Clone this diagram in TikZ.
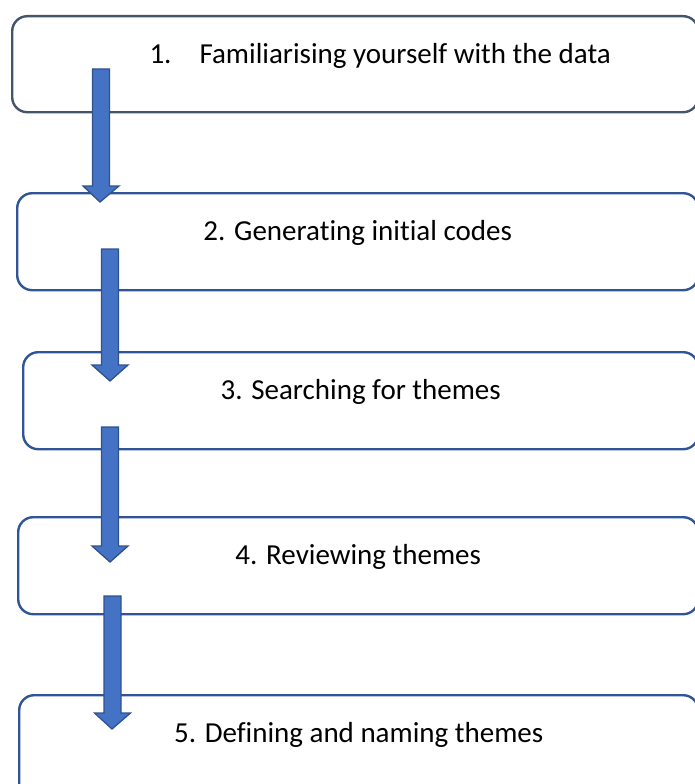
\documentclass[tikz,border=0pt]{standalone}
\usepackage{fontspec}
\setmainfont{Carlito}[RawFeature=-liga]
\usetikzlibrary{calc}

\definecolor{slateline}{HTML}{44546A}
\definecolor{boxline}{HTML}{2F5597}
\definecolor{arrowfill}{HTML}{4472C4}
\definecolor{arrowline}{HTML}{2F528F}

% block arrow from the top of its shaft (#1) down to its tip (#2)
\newcommand{\flowarrow}[2]{%
  \path[blockarrow] let \p1=(#1), \p2=(#2) in
    (\x1-8.5pt,\y1) -- (\x1+8.5pt,\y1) -- (\x1+8.5pt,\y2+16pt) -- (\x1+18pt,\y2+16pt)
    -- (\x2,\y2) -- (\x1-18pt,\y2+16pt) -- (\x1-8.5pt,\y2+16pt) -- cycle;}

\begin{document}
\begin{tikzpicture}[
        x=1pt, y=-1pt,
        phase/.style={draw=boxline, line width=2.4pt, rounded corners=15pt, anchor=north west,
            inner sep=0pt, minimum width=686pt, text height=47pt, font=\fontsize{29}{35}\selectfont},
        blockarrow/.style={fill=arrowfill, draw=arrowline, line width=1.3pt, line join=miter}
    ]
        \useasboundingbox (0,0) rectangle (695,784);
        \clip (0,0) rectangle (695,784);

        % Phase boxes
        \node[phase, draw=slateline, minimum height=96pt, text depth=49pt] (box1) at (11,15)
            {\hspace*{50pt}1.\hspace{28pt}Familiarising yourself with the data};
        \node[phase, minimum height=97pt, text depth=50pt, minimum width=681pt] (box2) at (16,192)
            {2. Generating initial codes};
        \node[phase, minimum height=97pt, text depth=50pt, minimum width=675pt] (box3) at (22,351)
            {3. Searching for themes};
        \node[phase, minimum height=97pt, text depth=50pt, minimum width=680pt] (box4) at (17,516)
            {4. Reviewing themes};
        \node[phase, minimum height=110pt, text depth=63pt, minimum width=679pt] (box5) at (18,694)
            {5. Defining and naming themes};

        % Arrow ends
        \coordinate (top1) at (101,69);   \coordinate (tip1) at (100,202);
        \coordinate (top2) at (110,249);  \coordinate (tip2) at (110,381);
        \coordinate (top3) at (110,427);  \coordinate (tip3) at (110,562);
        \coordinate (top4) at (112.5,596); \coordinate (tip4) at (112,729);

        % Block arrows between phases
        \flowarrow{top1}{tip1}
        \flowarrow{top2}{tip2}
        \flowarrow{top3}{tip3}
        \flowarrow{top4}{tip4}

    \end{tikzpicture}
\end{document}
